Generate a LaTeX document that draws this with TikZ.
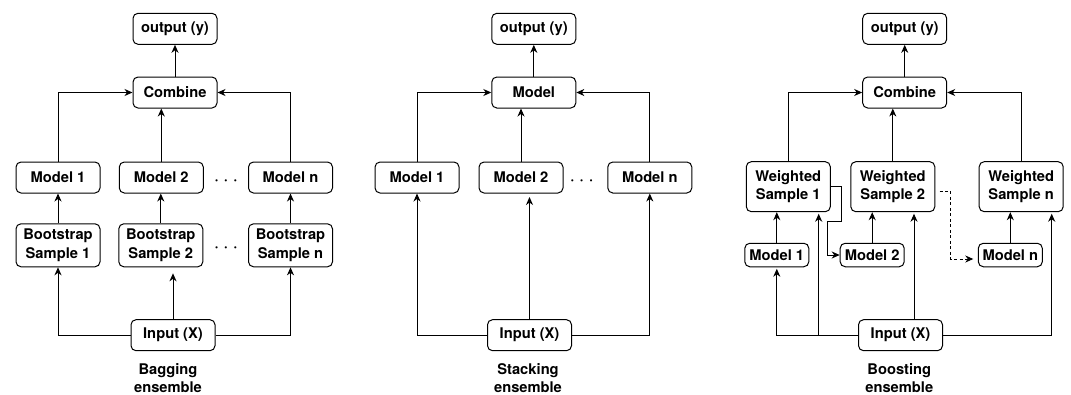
\documentclass[tikz,border=0pt]{standalone}
\usepackage{fontspec}
\setmainfont{TeX Gyre Heros}
\usetikzlibrary{arrows.meta,calc}

\tikzset{
  lbl/.style={font=\fontsize{14.7}{18.3}\selectfont\bfseries, align=center, inner sep=0pt},
  box/.style={lbl, draw, rounded corners=5pt, line width=1pt,
              minimum width=84pt, minimum height=31pt},
  tallbox/.style={box, minimum height=43pt},
  wbox/.style={box, minimum height=50pt},
  smallbox/.style={box, minimum width=64pt, minimum height=23.5pt},
  arr/.style={-{Stealth[length=8pt,width=7pt,inset=2.5pt]}, line width=1pt},
  dashline/.style={dash pattern=on 3pt off 2.5pt},
  ellip/.style={lbl, anchor=base},
}
\newcommand{\ellipsisdots}{·\hspace{5.3pt}·\hspace{5.3pt}·}

\begin{document}
\begin{tikzpicture}[x=1pt,y=-1pt]
\useasboundingbox (0,0) rectangle (1071,394);

% ---------------- Bagging ----------------
\node[box] (out1) at (175,28.8) {output (y)};
\node[box] (comb1) at (175,92.5) {Combine};
\node[box] (m11) at (58,177.5) {Model 1};
\node[box] (m12) at (161.3,177.5) {Model 2};
\node[box] (m1n) at (290.5,177.5) {Model n};
\node[tallbox] (b1) at (58,245.3) {Bootstrap\\Sample 1};
\node[tallbox] (b2) at (160.8,245.3) {Bootstrap\\Sample 2};
\node[tallbox] (bn) at (290.5,245.3) {Bootstrap\\Sample n};
\node[box] (in1) at (173,335.2) {Input (X)};
\node[lbl] (cap1) at (168,378) {Bagging\\ensemble};
\node[ellip] (dots1a) at (226,184) {\ellipsisdots};
\node[ellip] (dots1b) at (226,251.4) {\ellipsisdots};

\draw[arr] (comb1) -- (out1);
\draw[arr] (m11.north) |- (comb1.west);
\draw[arr] (m1n.north) |- (comb1.east);
\draw[arr] (m12.north) -- (m12.north |- comb1.south);
\draw[arr] (b1) -- (m11);
\draw[arr] (b2.north) -- (b2.north |- m12.south);
\draw[arr] (bn) -- (m1n);
\draw[arr] (in1.west) -| (b1.south);
\draw[arr] (in1.east) -| (bn.south);
\draw[arr, shorten >=6pt] (in1.north) -- (in1.north |- b2.south);

% ---------------- Stacking ----------------
\node[box] (out2) at (533.8,28.8) {output (y)};
\node[box] (comb2) at (533.8,92.5) {Model};
\node[box] (s1) at (417,177.5) {Model 1};
\node[box] (s2) at (521,177.5) {Model 2};
\node[box] (sn) at (649.8,177.5) {Model n};
\node[box] (in2) at (529.5,335.2) {Input (X)};
\node[lbl] (cap2) at (528,378) {Stacking\\ensemble};
\node[ellip] (dots2) at (581.7,184) {\ellipsisdots};

\draw[arr] (comb2) -- (out2);
\draw[arr] (s1.north) |- (comb2.west);
\draw[arr] (sn.north) |- (comb2.east);
\draw[arr] (s2.north) -- (s2.north |- comb2.south);
\draw[arr] (in2.west) -| (s1.south);
\draw[arr] (in2.east) -| (sn.south);
\draw[arr, shorten >=3.5pt] (in2.north) -- (in2.north |- s2.south);

% ---------------- Boosting ----------------
\node[box] (out3) at (904.7,28.8) {output (y)};
\node[box] (comb3) at (904.7,92.5) {Combine};
\node[wbox] (w1) at (788.3,186.7) {Weighted\\Sample 1};
\node[wbox] (w2) at (892.8,186.7) {Weighted\\Sample 2};
\node[wbox] (wn) at (1021.2,186.7) {Weighted\\Sample n};
\node[smallbox] (bm1) at (776.8,255) {Model 1};
\node[smallbox] (bm2) at (872.2,255) {Model 2};
\node[smallbox] (bmn) at (1010.3,255) {Model n};
\node[box] (in3) at (900.5,335.2) {Input (X)};
\node[lbl] (cap3) at (899.3,378) {Boosting\\ensemble};

\draw[arr] (comb3) -- (out3);
\draw[arr] (w1.north) |- (comb3.west);
\draw[arr] (wn.north) |- (comb3.east);
\draw[arr] (w2.north) -- (w2.north |- comb3.south);
\draw[arr] (bm1.north) -- (bm1.north |- w1.south);
\draw[arr] (bm2.north) -- (bm2.north |- w2.south);
\draw[arr] (bmn.north) -- (bmn.north |- wn.south);

% input feeds
\coordinate (j1) at (818.7,335.2);
\draw[arr, shorten >=1.5pt] (in3.west) -| (bm1.south);
\draw[arr, shorten >=1.5pt] (j1) -- (j1 |- w1.south);
\draw[arr, shorten >=1.5pt] ([xshift=13.5pt]in3.north) -- ([xshift=13.5pt]in3.north |- w2.south);
\draw[arr, shorten >=1.5pt] (in3.east) -| ([xshift=30.5pt]wn.south);

% sample weights passed on to the next model
\draw[arr] (w1.east) -- ++(10.3,0) |- ++(-13.3,35) |- (bm2.west);
\coordinate (d0) at ($(w2.east)+(4.3,4.3)$);
\draw[arr, dashline, shorten >=4.5pt] (d0) -- ++(10.7,0) |- ($(bmn.west)+(0,4)$);
\end{tikzpicture}
\end{document}
